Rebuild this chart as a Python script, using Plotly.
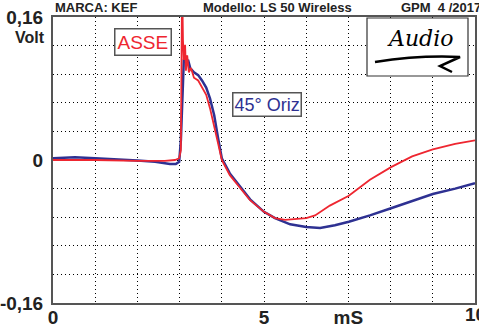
import plotly.graph_objects as go

# Time axis (ms) and responses (Volt)
red_x = [0, 1, 2, 2.65, 2.89, 2.99, 3.03, 3.06, 3.08, 3.10, 3.13, 3.15, 3.18, 3.22, 3.27, 3.34, 3.44,
         3.53, 3.63, 3.72, 3.82, 3.91, 4.0, 4.19, 4.43, 4.67, 5.0, 5.26, 5.5, 5.73, 6.0, 6.21, 6.56,
         7.01, 7.51, 8.01, 8.51, 9.0, 9.53, 10.0]
red_y = [0, 0, -0.001, -0.001, 0, 0.002, 0.011, 0.20, 0.134, 0.112, 0.129, 0.10, 0.117, 0.098, 0.103,
         0.092, 0.089, 0.081, 0.073, 0.058, 0.039, 0.019, 0, -0.017, -0.031, -0.045, -0.058, -0.065,
         -0.067, -0.066, -0.065, -0.062, -0.051, -0.040, -0.022, -0.008, 0.004, 0.012, 0.018, 0.022]

blue_x = [0, 0.52, 1.0, 1.59, 2.0, 2.42, 2.77, 2.91, 2.99, 3.03, 3.08, 3.10, 3.13, 3.15, 3.20, 3.25,
          3.34, 3.44, 3.53, 3.63, 3.72, 3.82, 3.91, 4.0, 4.19, 4.43, 4.67, 5.0, 5.26, 5.62, 6.0, 6.33,
          6.68, 7.01, 7.51, 8.01, 8.51, 9.0, 9.53, 10.0]
blue_y = [0.002, 0.003, 0.002, 0.001, -0.0005, -0.002, -0.0045, -0.0045, -0.002, 0.022, 0.10, 0.112,
          0.117, 0.109, 0.112, 0.103, 0.098, 0.095, 0.089, 0.081, 0.069, 0.050, 0.025, 0.002, -0.015,
          -0.030, -0.044, -0.058, -0.065, -0.072, -0.075, -0.076, -0.073, -0.069, -0.062, -0.054,
          -0.046, -0.038, -0.032, -0.026]

x_tickvals = [0, 5, 7, 10]
x_ticktext = ["0", "5", "mS", "10"]
y_tickvals = [-0.16, 0, 0.16]
y_ticktext = ["-0,16", "0", "0,16"]

RED = "#EE2630"
BLUE = "#2E3192"
FONT = "Liberation Sans"
DARK = "#222222"

fig = go.Figure()
fig.add_trace(go.Scatter(x=blue_x, y=blue_y, mode="lines",
                         line=dict(color=BLUE, width=2.5), showlegend=False))
fig.add_trace(go.Scatter(x=red_x, y=red_y, mode="lines",
                         line=dict(color=RED, width=1.8), showlegend=False))

grid = dict(showgrid=True, gridcolor="black", griddash="1px,3px", gridwidth=1)
fig.update_xaxes(range=[0, 10], tickmode="array", tickvals=x_tickvals,
                 ticktext=[f"<b>{t}</b>" for t in x_ticktext], automargin=False,
                 showline=True, mirror=True, linecolor="#555555", linewidth=2, zeroline=False,
                 ticks="", ticklabelstandoff=-4, tickfont=dict(family=FONT, size=19, color=DARK),
                 minor=dict(tickmode="linear", tick0=0, dtick=1, **grid), **grid)
fig.update_yaxes(range=[-0.16, 0.16], tickmode="array", tickvals=y_tickvals,
                 ticktext=[f"<b>{t}</b>" for t in y_ticktext], automargin=False,
                 showline=True, mirror=True, linecolor="#555555", linewidth=2, zeroline=False,
                 ticks="", ticklabelstandoff=4, tickfont=dict(family=FONT, size=19, color=DARK),
                 minor=dict(tickmode="linear", tick0=0, dtick=0.032, **grid), **grid)

ann = []
ann.append(dict(x=10, y=0, xref="x", yref="paper", yshift=1, text="<b>10</b>", showarrow=False,
                xanchor="center", yanchor="top", font=dict(family=FONT, size=19, color=DARK)))
ann.append(dict(x=-0.015, y=0.137, xref="paper", yref="y", text="<b>Volt</b>", showarrow=False,
                xanchor="right", font=dict(family=FONT, size=16, color=DARK)))
hdr = dict(family=FONT, size=13, color=DARK)
ann.append(dict(x=0, y=1, xref="paper", yref="paper", yshift=0, text="<b>MARCA: KEF</b>", showarrow=False,
                xanchor="left", yanchor="bottom", font=hdr))
ann.append(dict(x=(277 - 53) / 422, y=1, xref="paper", yref="paper", yshift=0,
                text="<b>Modello: LS 50 Wireless</b>", showarrow=False,
                xanchor="center", yanchor="bottom", font=hdr))
ann.append(dict(x=(399 - 53) / 422, y=1, xref="paper", yref="paper", yshift=0,
                text="<b>GPM  4 /2017</b>", showarrow=False,
                xanchor="left", yanchor="bottom", font=hdr))
ann.append(dict(x=2.13, y=0.1315, text="ASSE", showarrow=False, bgcolor="white",
                bordercolor="#555555", borderwidth=1.5, borderpad=2,
                font=dict(family=FONT, size=19, color=RED)))
ann.append(dict(x=5.06, y=0.062, text="45° Oriz", showarrow=False, bgcolor="white",
                bordercolor="#555555", borderwidth=1.5, borderpad=1,
                font=dict(family=FONT, size=18, color=BLUE)))
ann.append(dict(x=(420 - 53) / 42.2, y=(160 - 38) * 0.16 / 143, text="<i>Audio</i>", showarrow=False,
                font=dict(family="DejaVu Serif", size=22, color="black")))
fig.update_layout(annotations=ann)

# logo frame and swoosh
lx0, lx1 = (367 - 53) / 42.2, (468 - 53) / 42.2
ly0, ly1 = (160 - 76) * 0.16 / 143, (160 - 18) * 0.16 / 143
fig.add_shape(type="rect", x0=lx0, x1=lx1, y0=ly0, y1=ly1, line=dict(color="#333333", width=1.2),
              fillcolor="white", layer="above")
sx = lambda p: (p - 53) / 42.2
sy = lambda p: (160 - p) * 0.16 / 143
fig.add_shape(type="path", path=f"M {sx(375)},{sy(62)} Q {sx(420)},{sy(55)} {sx(460)},{sy(57)} "
              f"L {sx(440)},{sy(66)} L {sx(452)},{sy(72)}",
              line=dict(color="black", width=2.5), layer="above")

fig.update_layout(width=479, height=327, margin=dict(l=53, r=4, t=17, b=24, autoexpand=False),
                  paper_bgcolor="white", plot_bgcolor="white")
fig.write_html("out.html")
